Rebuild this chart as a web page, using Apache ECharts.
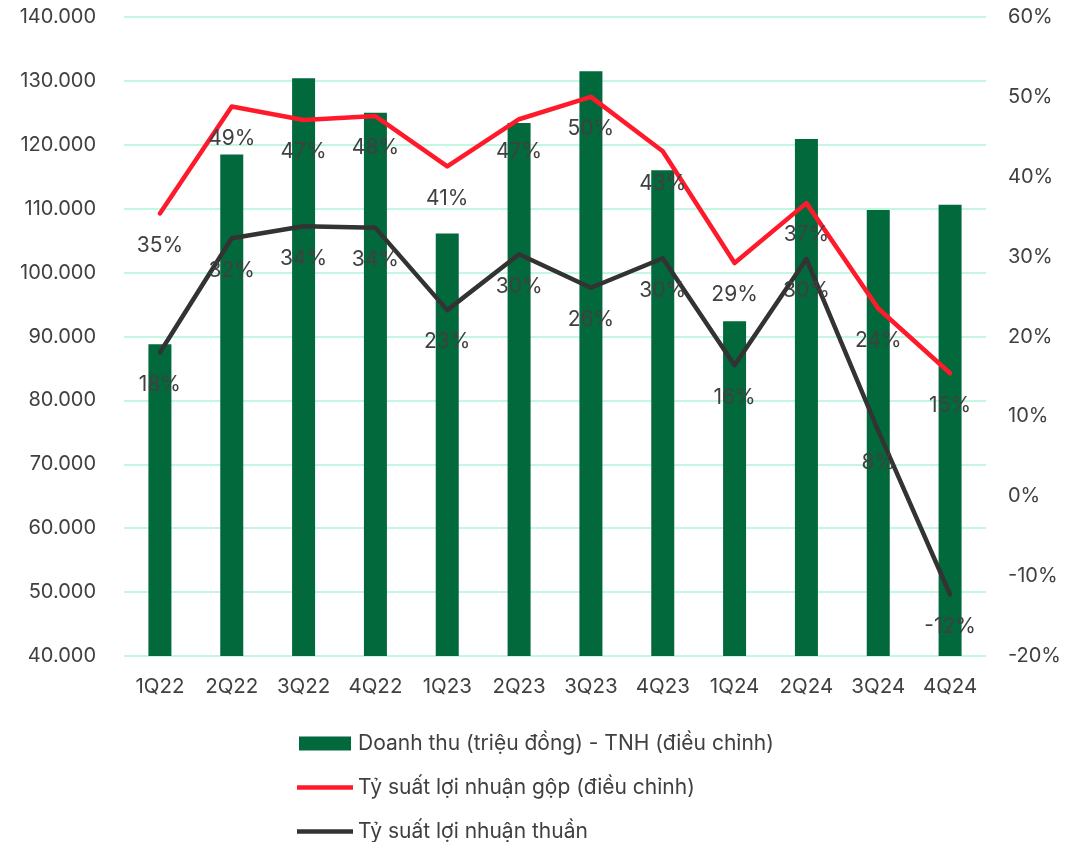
<!DOCTYPE html>
<html>
<head>
<meta charset="utf-8">
<script src="https://cdn.jsdelivr.net/npm/echarts@6/dist/echarts.min.js"></script>
<style>
  html, body { margin: 0; padding: 0; background: #fff; }
  #chart { width: 1066px; height: 842px; }
</style>
</head>
<body>
<div id="chart"></div>
<script>
// quý
var quarters = ['1Q22', '2Q22', '3Q22', '4Q22', '1Q23', '2Q23', '3Q23', '4Q23', '1Q24', '2Q24', '3Q24', '4Q24'];
// doanh thu (triệu đồng)
var revenue = [88800, 118500, 130400, 125000, 106100, 123400, 131500, 116000, 92400, 120900, 109800, 110600];
// tỷ suất lợi nhuận gộp (%)
var grossMargin = [35.4, 48.8, 47.1, 47.6, 41.3, 47.2, 50.0, 43.2, 29.2, 36.7, 23.5, 15.4];
// tỷ suất lợi nhuận thuần (%)
var netMargin = [18.0, 32.3, 33.8, 33.6, 23.3, 30.3, 26.1, 29.8, 16.4, 29.7, 8.2, -12.3];

var names = ['Doanh thu (triệu đồng) - TNH (điều chỉnh)', 'Tỷ suất lợi nhuận gộp (điều chỉnh)', 'Tỷ suất lợi nhuận thuần'];

var font = 'Inter, "Noto Sans", sans-serif';
var textColor = '#404040';

var myChart = echarts.init(document.getElementById('chart'));

function makeLabel() {
  return {
    show: true,
    position: 'bottom',
    distance: 21,
    fontSize: 21,
    fontFamily: font,
    color: textColor,
    formatter: function (p) { return Math.round(p.value) + '%'; }
  };
}

function makeLegend(name, icon, top, left) {
  return {
    left: left,
    top: top,
    itemWidth: 56,
    itemHeight: 14,
    itemGap: 0,
    textStyle: { fontSize: 21, fontFamily: font, color: textColor },
    data: [{ name: name, icon: icon }]
  };
}

var lineIcon = 'path://M0,0 L56,0 L56,4.5 L0,4.5 Z';

var option = {
  backgroundColor: '#ffffff',
  animation: false,
  grid: { left: 124, right: 80, top: 17, bottom: 186 },
  legend: [
    makeLegend(names[0], 'path://M0,0 L52,0 L52,14 L0,14 Z', 728, 294),
    makeLegend(names[1], lineIcon, 772, 292),
    makeLegend(names[2], lineIcon, 816, 292)
  ],
  xAxis: {
    type: 'category',
    data: quarters,
    axisLine: { show: false },
    axisTick: { show: false },
    axisLabel: { interval: 0, fontSize: 20.5, fontFamily: font, color: textColor, margin: 20 }
  },
  yAxis: [
    {
      type: 'value',
      min: 40000,
      max: 140000,
      interval: 10000,
      axisLine: { show: false },
      axisTick: { show: false },
      splitLine: { lineStyle: { color: '#c4f7e1', width: 2 } },
      axisLabel: {
        fontSize: 20, fontFamily: font, color: textColor, margin: 28,
        formatter: function (v) { return (v / 1000).toFixed(3); }
      }
    },
    {
      type: 'value',
      min: -20,
      max: 60,
      interval: 10,
      axisLine: { show: false },
      axisTick: { show: false },
      splitLine: { show: false },
      axisLabel: {
        fontSize: 20, fontFamily: font, color: textColor, margin: 22,
        formatter: '{value}%'
      }
    }
  ],
  series: [
    {
      name: names[0],
      type: 'bar',
      data: revenue,
      barWidth: 23,
      itemStyle: { color: '#02693c' }
    },
    {
      name: names[1],
      type: 'line',
      yAxisIndex: 1,
      data: grossMargin,
      symbol: 'circle',
      symbolSize: 1,
      showSymbol: true,
      itemStyle: { color: '#ff1a2b' },
      lineStyle: { color: '#ff1a2b', width: 4.5, cap: 'round', join: 'round' },
      label: makeLabel(),
      labelLayout: { hideOverlap: false }
    },
    {
      name: names[2],
      type: 'line',
      yAxisIndex: 1,
      data: netMargin,
      symbol: 'circle',
      symbolSize: 1,
      showSymbol: true,
      itemStyle: { color: '#333333' },
      lineStyle: { color: '#333333', width: 4.5, cap: 'round', join: 'round' },
      label: makeLabel(),
      labelLayout: { hideOverlap: false }
    }
  ]
};

myChart.setOption(option);
</script>
</body>
</html>
